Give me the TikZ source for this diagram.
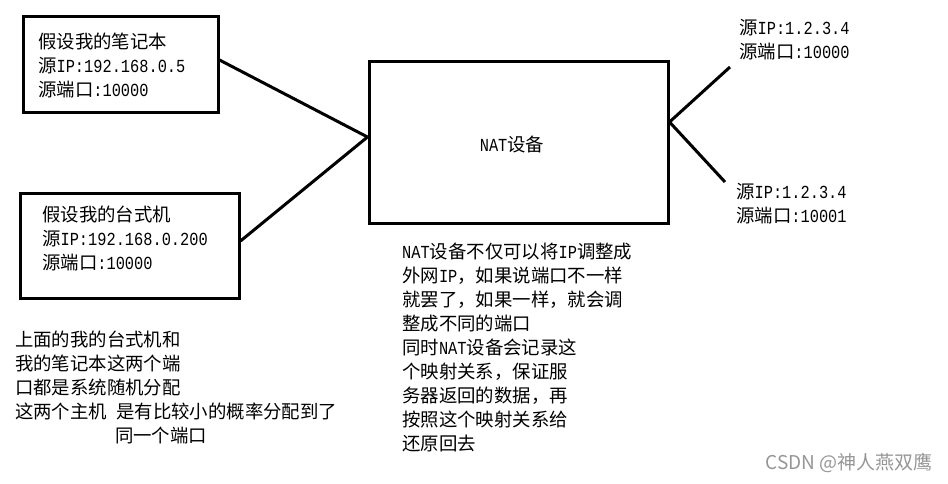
\documentclass[tikz,border=0pt]{standalone}
\usepackage{fontspec}
\setmainfont{Noto Sans CJK SC}
\newfontfamily\wmfont{Noto Sans CJK SC}
\newfontfamily\hwfont{Liberation Mono}[FakeStretch=0.8333]
\newcommand\hwt[1]{{\hwfont #1}}
\definecolor{wmgray}{RGB}{150,150,150}
\begin{document}
\begin{tikzpicture}[x=1pt,y=-1pt,
  box/.style={draw=black, line width=3pt, rectangle, inner sep=0pt},
  txt/.style={inner sep=0pt, anchor=north west, align=left, font=\fontsize{18.4}{24}\selectfont},
  link/.style={line width=3pt}]
\useasboundingbox[fill=white] (0,0) rectangle (948,484);
% boxes
\node[box, minimum width=195pt, minimum height=96pt] (lap) at (120.5,65) {};
\node[box, minimum width=219pt, minimum height=105pt] (desk) at (129.5,245.5) {};
\node[box, minimum width=299pt, minimum height=161pt] (nat) at (518.5,142.5) {};
% texts
\node[txt] (laptxt) at (38,33) {假设我的笔记本\\源\hwt{IP:192.168.0.5}\\源端口\hwt{:10000}};
\node[txt] (desktxt) at (42,206) {假设我的台式机\\源\hwt{IP:192.168.0.200}\\源端口\hwt{:10000}};
\node[inner sep=0pt, font=\fontsize{18.4}{24}\selectfont] (nattxt) at (512,145) {\hwt{NAT}设备};
\node[txt] (out1) at (739,19) {源\hwt{IP:1.2.3.4}\\源端口\hwt{:10000}};
\node[txt] (out2) at (736,183) {源\hwt{IP:1.2.3.4}\\源端口\hwt{:10001}};
\node[txt] (note1) at (15,331) {上面的我的台式机和\\我的笔记本这两个端\\口都是系统随机分配\\这两个主机\hwt{ }是有比较小的概率分配到了\\\hspace*{100pt}同一个端口};
\node[txt] (note2) at (402,243) {\hwt{NAT}设备不仅可以将\hwt{IP}调整成\\外网\hwt{IP}，如果说端口不一样\\就罢了，如果一样，就会调\\整成不同的端口\\同时\hwt{NAT}设备会记录这\\个映射关系，保证服\\务器返回的数据，再\\按照这个映射关系给\\还原回去};
\node[inner sep=0pt, anchor=east, text=wmgray, font=\wmfont\fontsize{19}{21}\selectfont] (wm) at (933,463) {CSDN @神人燕双鹰};
% connectors
\coordinate (o1) at (730,67);
\coordinate (o2) at (725,182);
\draw[link] ([yshift=5pt]lap.east) -- ([yshift=5.5pt]nat.west);
\draw[link] ([yshift=4.5pt]desk.east) -- ([yshift=5.5pt]nat.west);
\draw[link] ([yshift=20.5pt]nat.east) -- (o1);
\draw[link] ([yshift=20.5pt]nat.east) -- (o2);
\end{tikzpicture}
\end{document}
